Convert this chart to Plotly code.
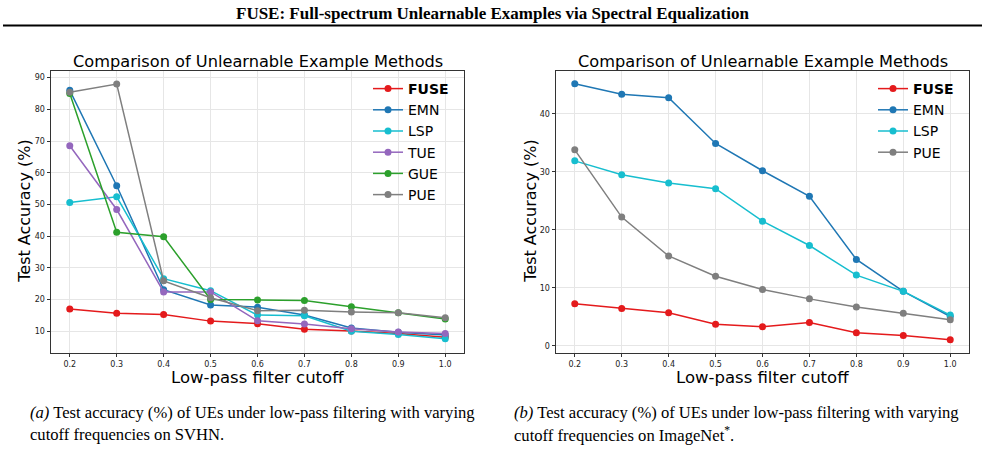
import plotly.graph_objects as go

W, H = 985, 463

cutoffs = [0.2, 0.3, 0.4, 0.5, 0.6, 0.7, 0.8, 0.9, 1.0]

# (a) SVHN
svhn_methods = ["FUSE", "EMN", "LSP", "TUE", "GUE", "PUE"]
svhn_fuse = [17.0, 15.7, 15.3, 13.2, 12.4, 10.6, 10.1, 9.3, 8.1]
svhn_emn = [86.0, 55.9, 23.1, 18.3, 17.6, 15.1, 11.0, 9.7, 8.8]
svhn_lsp = [50.6, 52.4, 26.6, 22.8, 15.1, 14.9, 10.0, 9.0, 7.6]
svhn_tue = [68.5, 48.4, 22.4, 22.4, 13.3, 12.3, 10.8, 9.8, 9.3]
svhn_gue = [85.0, 41.2, 39.8, 20.0, 19.9, 19.7, 17.7, 15.8, 13.9]
svhn_pue = [85.4, 88.0, 25.9, 20.6, 16.5, 16.6, 16.1, 15.8, 14.3]

# (b) ImageNet*
imnet_methods = ["FUSE", "EMN", "LSP", "PUE"]
imnet_fuse = [7.25, 6.45, 5.7, 3.74, 3.28, 4.03, 2.24, 1.78, 1.04]
imnet_emn = [45.2, 43.4, 42.8, 34.9, 30.2, 25.8, 14.9, 9.4, 5.06]
imnet_lsp = [31.9, 29.5, 28.1, 27.1, 21.5, 17.3, 12.2, 9.4, 5.3]
imnet_pue = [33.8, 22.2, 15.5, 12.0, 9.7, 8.1, 6.7, 5.6, 4.5]

xticks = [0.2, 0.3, 0.4, 0.5, 0.6, 0.7, 0.8, 0.9, 1.0]
xtick_text = ["0.2", "0.3", "0.4", "0.5", "0.6", "0.7", "0.8", "0.9", "1.0"]
svhn_yticks = [10, 20, 30, 40, 50, 60, 70, 80, 90]
imnet_yticks = [0, 10, 20, 30, 40]

title_text = "Comparison of Unlearnable Example Methods"
xlabel = "Low-pass filter cutoff"
ylabel = "Test Accuracy (%)"
header = "FUSE: Full-spectrum Unlearnable Examples via Spectral Equalization"
cap_a = ["<i>(a)</i> Test accuracy (%) of UEs under low-pass filtering with varying",
         "cutoff frequencies on SVHN."]
cap_b = ["<i>(b)</i> Test accuracy (%) of UEs under low-pass filtering with varying",
         "cutoff frequencies on ImageNet<sup>*</sup>."]

colors = {"FUSE": "#e41a1c", "EMN": "#1f77b4", "LSP": "#17becf",
          "TUE": "#9467bd", "GUE": "#2ca02c", "PUE": "#7f7f7f"}

fig = go.Figure()

svhn_vals = [svhn_fuse, svhn_emn, svhn_lsp, svhn_tue, svhn_gue, svhn_pue]
for name, vals in zip(svhn_methods, svhn_vals):
    fig.add_trace(go.Scatter(
        x=cutoffs, y=vals, mode="lines+markers",
        name="<b>FUSE</b>" if name == "FUSE" else name,
        line=dict(color=colors[name], width=1.5),
        marker=dict(color=colors[name], size=7),
        xaxis="x", yaxis="y", legend="legend"))

imnet_vals = [imnet_fuse, imnet_emn, imnet_lsp, imnet_pue]
for name, vals in zip(imnet_methods, imnet_vals):
    fig.add_trace(go.Scatter(
        x=cutoffs, y=vals, mode="lines+markers",
        name="<b>FUSE</b>" if name == "FUSE" else name,
        line=dict(color=colors[name], width=1.5),
        marker=dict(color=colors[name], size=7),
        xaxis="x2", yaxis="y2", legend="legend2"))

def px_x(p):
    return p / W

def px_y(p):
    return 1 - p / H

top, bottom = 71, 352.5
lx0, lx1 = 51, 464
rx0, rx1 = 556, 969

axis_common = dict(
    showline=True, mirror=True, linecolor="#333333", linewidth=1,
    showgrid=True, gridcolor="#e6e6e6", gridwidth=1,
    ticks="outside", ticklen=3.5, tickcolor="#333333", tickwidth=1,
    tickfont=dict(family="DejaVu Sans", size=8, color="#222222"),
    zeroline=False,
)

fig.update_layout(
    width=W, height=H,
    margin=dict(l=0, r=0, t=0, b=0),
    paper_bgcolor="white", plot_bgcolor="white",
    showlegend=True,
    xaxis=dict(domain=[px_x(lx0), px_x(lx1)], range=[0.16, 1.04],
               tickvals=xticks, ticktext=xtick_text, anchor="y", **axis_common),
    yaxis=dict(domain=[px_y(bottom), px_y(top)], range=[3.3, 92.1],
               tickvals=svhn_yticks, anchor="x", **axis_common),
    xaxis2=dict(domain=[px_x(rx0), px_x(rx1)], range=[0.16, 1.04],
                tickvals=xticks, ticktext=xtick_text, anchor="y2", **axis_common),
    yaxis2=dict(domain=[px_y(bottom), px_y(top)], range=[-1.15, 47.4],
                tickvals=imnet_yticks, anchor="x2", **axis_common),
    legend=dict(x=px_x(368), y=px_y(73), xanchor="left", yanchor="top",
                bgcolor="rgba(0,0,0,0)", borderwidth=0,
                font=dict(family="DejaVu Sans", size=14, color="black"),
                tracegroupgap=0, itemwidth=30),
    legend2=dict(x=px_x(873), y=px_y(73), xanchor="left", yanchor="top",
                 bgcolor="rgba(0,0,0,0)", borderwidth=0,
                 font=dict(family="DejaVu Sans", size=14, color="black"),
                 tracegroupgap=0, itemwidth=30),
)

ann = []
# header
ann.append(dict(text="<b>" + header + "</b>", x=px_x(492), y=px_y(14),
                xref="paper", yref="paper", xanchor="center", yanchor="middle",
                showarrow=False,
                font=dict(family="Liberation Serif", size=17, color="black")))
# subplot titles and axis labels
for cx, ylx in [((lx0 + lx1) / 2, 25), ((rx0 + rx1) / 2, 531)]:
    ann.append(dict(text=title_text, x=px_x(cx), y=px_y(61),
                    xref="paper", yref="paper", xanchor="center", yanchor="middle",
                    showarrow=False,
                    font=dict(family="DejaVu Sans", size=16.2, color="black")))
    ann.append(dict(text=xlabel, x=px_x(cx), y=px_y(377),
                    xref="paper", yref="paper", xanchor="center", yanchor="middle",
                    showarrow=False,
                    font=dict(family="DejaVu Sans", size=16.5, color="black")))
    ann.append(dict(text=ylabel, x=px_x(ylx), y=px_y((top + bottom) / 2),
                    xref="paper", yref="paper", xanchor="center", yanchor="middle",
                    textangle=-90, showarrow=False,
                    font=dict(family="DejaVu Sans", size=16, color="black")))
# captions
for cx, lines in [(28, cap_a), (512, cap_b)]:
    for i, line in enumerate(lines):
        ann.append(dict(text=line, x=px_x(cx), y=px_y(412 + 22 * i),
                        xref="paper", yref="paper", xanchor="left", yanchor="middle",
                        showarrow=False,
                        font=dict(family="Liberation Serif", size=16.6, color="black")))
fig.update_layout(annotations=ann)

fig.add_shape(type="line", xref="paper", yref="paper",
              x0=px_x(3), x1=px_x(982), y0=px_y(25.5), y1=px_y(25.5),
              line=dict(color="black", width=2))

fig.write_html("out.html")
